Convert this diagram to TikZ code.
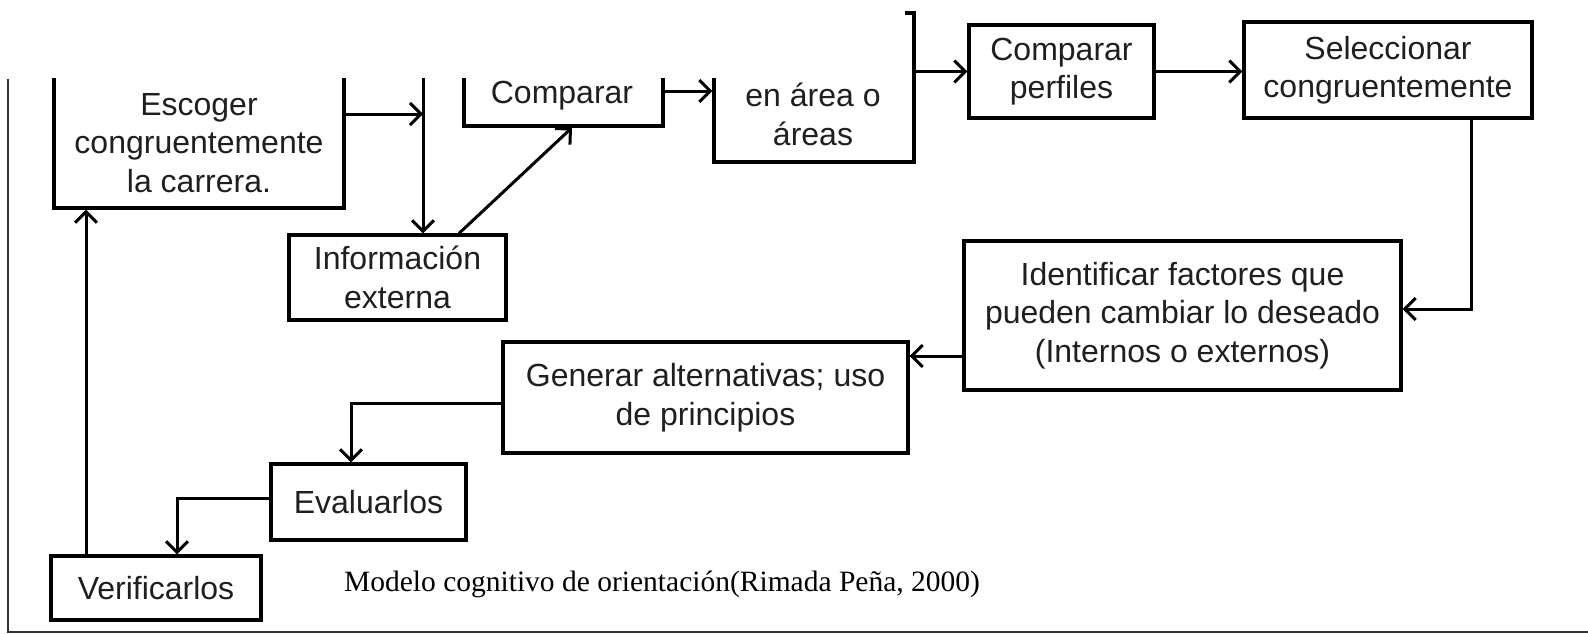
\documentclass[tikz,border=0pt]{standalone}
\usepackage{fontspec}
\setmainfont{Liberation Sans}
\newfontfamily\capfont{Liberation Serif}
\usetikzlibrary{arrows.meta}
\tikzset{
  box/.style={draw=black, line width=3.2pt, rectangle, inner sep=0pt},
  txt/.style={align=center, font=\fontsize{32}{38.5}\selectfont, inner sep=0pt, text=black!88},
  conn/.style={draw=black, line width=3pt},
  arr/.style={conn, -{Straight Barb[length=11pt,width=22pt,line width=3pt]}},
  frame/.style={draw=black!80, line width=1.8pt}
}
\begin{document}
\begin{tikzpicture}[x=1pt,y=-1pt]
\useasboundingbox (0,0) rectangle (1588,634);
% boxes
\node[box, minimum width=290pt, minimum height=178pt] (esc) at (199,119) {};
\node[txt] (esct) at (199,143) {Escoger\\congruentemente\\la carrera.};
\node[box, minimum width=199pt, minimum height=86pt] (comp) at (563.5,83) {};
\node[txt] (compt) at (562,96) {Comparar};
\node[box, minimum width=200pt, minimum height=149pt] (area) at (814,87.5) {};
\node[txt] (areat) at (813,114.5) {en área o\\áreas};
\node[box, txt, minimum width=185pt, minimum height=93pt] (cperf) at (1061.5,71.5) {Comparar\\perfiles};
\node[box, txt, minimum width=288pt, minimum height=96pt] (sel) at (1388,70) {Seleccionar\\congruentemente};
\node[box, txt, minimum width=217pt, minimum height=85pt] (info) at (397.5,277.5) {Información\\externa};
\node[box, txt, minimum width=437pt, minimum height=149pt] (ident) at (1182.5,315.5) {Identificar factores que\\pueden cambiar lo deseado\\(Internos o externos)};
\node[box, txt, minimum width=405pt, minimum height=111pt] (gen) at (705.5,397.5) {Generar alternativas; uso\\de principios};
\node[box, txt, minimum width=195pt, minimum height=76pt] (eval) at (368.5,502) {Evaluarlos};
\node[box, txt, minimum width=210pt, minimum height=64pt] (verif) at (156,588) {Verificarlos};
% connectors
\coordinate (vtop) at (423,0);
\draw[arr] ([yshift=5pt]esc.east) -- ([yshift=5pt]esc.east -| vtop);
\draw[arr] (vtop) -- (info.north -| vtop);
\draw[arr] ([xshift=61.5pt]info.north) -- ([xshift=8.5pt]comp.south);
\draw[arr] ([yshift=-8pt]comp.east) -- ([yshift=-8pt]comp.east -| area.west);
\draw[arr] (cperf.west -| area.east) -- (cperf.west);
\draw[arr] (cperf.east) -- (cperf.east -| sel.west);
\draw[arr] ([xshift=83pt]sel.south) |- ([yshift=6.5pt]ident.east);
\draw[arr] ([yshift=-40.5pt]ident.west) coordinate (a1) -- (a1 -| gen.east);
\draw[arr] ([yshift=-5.5pt]gen.west) -| ([xshift=-17.5pt]eval.north);
\draw[arr] ([yshift=4pt]eval.west) -| ([xshift=21pt]verif.north);
\draw[arr] ([xshift=-70pt]verif.north) -- ([xshift=-70pt]verif.north |- esc.south);
% caption
\node[font=\capfont\fontsize{29.5}{34}\selectfont, inner sep=0pt] (cap) at (662,584) {Modelo cognitivo de orientación(Rimada Peña, 2000)};
% mask of the cropped top
\fill[white] (0,0) rectangle (905,78);
% frame lines
\draw[frame] (8,79) -- (8,632) -- (1588,632);
\end{tikzpicture}
\end{document}
